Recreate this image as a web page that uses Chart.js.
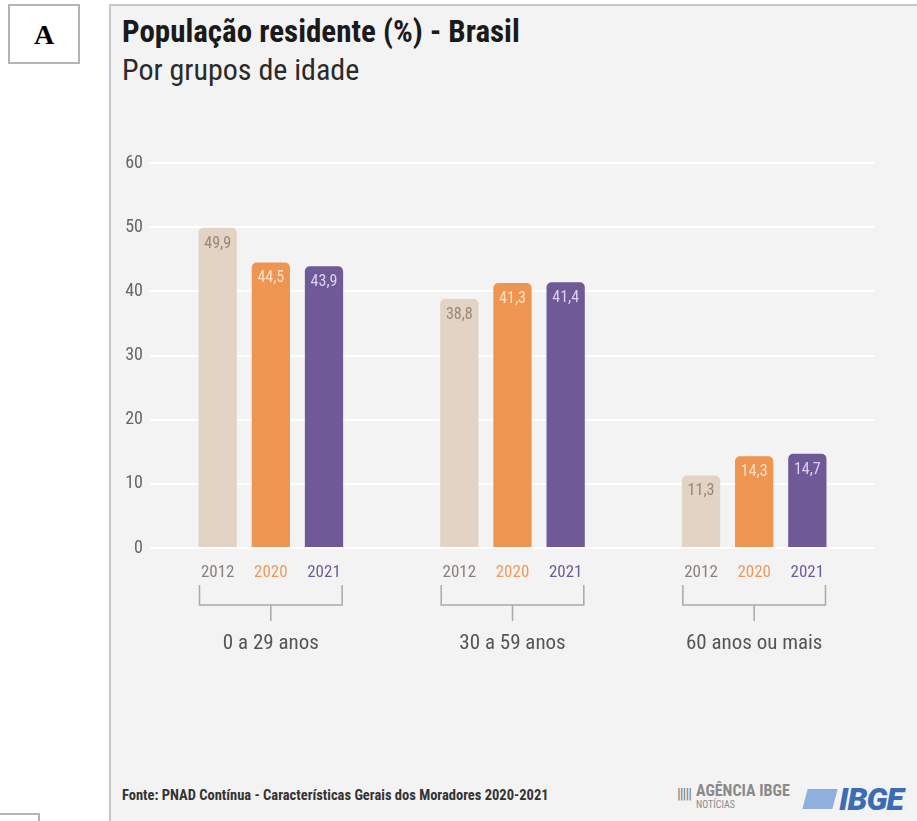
<!DOCTYPE html>
<html>
<head>
<meta charset="utf-8">
<script src="https://cdn.jsdelivr.net/npm/chart.js@4/dist/chart.umd.min.js"></script>
<style>
  html, body {
    margin: 0;
    padding: 0;
    background: #ffffff;
  }

  body {
    width: 917px;
    height: 821px;
    position: relative;
    overflow: hidden;
    font-family: "Roboto Condensed", "Liberation Sans Narrow", "DejaVu Sans Condensed", Roboto, sans-serif;
  }

  .tag {
    position: absolute;
    left: 8px;
    top: 4px;
    width: 72px;
    height: 60px;
    border: 2px solid #b4b4b4;
    box-sizing: border-box;
    font-family: "Liberation Serif", "DejaVu Serif", serif;
    font-weight: bold;
    font-size: 28px;
    line-height: 58px;
    text-align: center;
    color: #000;
  }

  .tag-bottom {
    position: absolute;
    left: -2px;
    top: 813px;
    width: 42px;
    height: 20px;
    border: 2px solid #b4b4b4;
    box-sizing: border-box;
  }

  .panel {
    position: absolute;
    left: 109px;
    top: 4px;
    width: 812px;
    height: 830px;
    background: #f3f3f3;
    border-left: 2px solid #c8c8c8;
    border-top: 2px solid #c8c8c8;
    box-sizing: border-box;
  }

  .title {
    position: absolute;
    left: 122px;
    top: 13px;
    font-size: 31px;
    font-weight: bold;
    color: #1a1a1a;
    white-space: nowrap;
  }

  .subtitle {
    position: absolute;
    left: 122px;
    top: 52px;
    font-size: 30px;
    color: #2a2a2a;
    white-space: nowrap;
  }

  #chartBox {
    position: absolute;
    left: 110px;
    top: 140px;
    width: 807px;
    height: 540px;
  }

  .source {
    position: absolute;
    left: 122px;
    top: 787px;
    font-size: 14.5px;
    font-weight: bold;
    color: #333;
    white-space: nowrap;
  }

  .agencia {
    position: absolute;
    left: 677px;
    top: 783px;
    color: #8a8a8a;
    white-space: nowrap;
  }

  .agencia .bars {
    display: inline-block;
    vertical-align: top;
    font-size: 15px;
    font-weight: bold;
    letter-spacing: -1px;
    margin-right: 5px;
    margin-top: 2px;
  }

  .agencia .name {
    display: inline-block;
    font-size: 16px;
    font-weight: bold;
    line-height: 16px;
  }

  .agencia .name small {
    display: block;
    font-size: 10px;
    font-weight: normal;
    line-height: 11px;
  }

  .ibge {
    position: absolute;
    left: 805px;
    top: 780px;
    white-space: nowrap;
    color: #3c6db4;
  }

  .ibge .icon {
    display: inline-block;
    width: 30px;
    height: 20px;
    background: #8fb0dc;
    transform: skewX(-15deg);
    vertical-align: middle;
    margin-right: 4px;
  }

  .ibge .word {
    font-family: Roboto, "Liberation Sans", sans-serif;
    font-size: 32px;
    font-weight: 900;
    font-style: italic;
    vertical-align: middle;
    letter-spacing: -1px;
  }
</style>
</head>
<body>

<div class="tag">A</div>
<div class="tag-bottom"></div>

<div class="panel"></div>

<div class="title">População residente (%) - Brasil</div>
<div class="subtitle">Por grupos de idade</div>

<div id="chartBox">
  <canvas id="popChart"></canvas>
</div>

<div class="source">Fonte: PNAD Contínua - Características Gerais dos Moradores 2020-2021</div>

<div class="agencia">
  <span class="bars">|||||</span><span class="name">AGÊNCIA IBGE<small>NOTÍCIAS</small></span>
</div>

<div class="ibge">
  <span class="icon"></span><span class="word">IBGE</span>
</div>

<script>
// =====================================================
// DATA
// =====================================================

const ageGroups = [
  "0 a 29 anos",
  "30 a 59 anos",
  "60 anos ou mais"
];

const years = [
  "2012",
  "2020",
  "2021"
];

const values2012 = [49.9, 38.8, 11.3];
const values2020 = [44.5, 41.3, 14.3];
const values2021 = [43.9, 41.4, 14.7];

const yTicks = [0, 10, 20, 30, 40, 50, 60];

// =====================================================
// STYLE
// =====================================================

const FONT =
  '"Roboto Condensed", "Liberation Sans Narrow", "DejaVu Sans Condensed", Roboto, sans-serif';

const barColors = ["#e2d3c5", "#ef9552", "#6f5a97"];
const valueColors = ["#9a8573", "#fde0c6", "#ddd2f0"];
const yearColors = ["#8b8079", "#ef9a5c", "#6f5a97"];

// =====================================================
// PLUGINS
// =====================================================

// value written inside the top of every bar
const valueLabels = {
  id: "valueLabels",
  afterDatasetsDraw(chart) {
    const ctx = chart.ctx;
    ctx.save();
    ctx.font = `16px ${FONT}`;
    ctx.textAlign = "center";
    ctx.textBaseline = "middle";
    chart.data.datasets.forEach((ds, i) => {
      chart.getDatasetMeta(i).data.forEach((bar, j) => {
        ctx.fillStyle = valueColors[i];
        ctx.fillText(
          ds.data[j].toFixed(1).replace(".", ","),
          bar.x,
          bar.y + 16
        );
      });
    });
    ctx.restore();
  }
};

// year under each bar and the bracket joining a group
const yearBrackets = {
  id: "yearBrackets",
  afterDraw(chart) {
    const ctx = chart.ctx;
    const base = chart.chartArea.bottom;
    const metas = chart.data.datasets.map(
      (ds, i) => chart.getDatasetMeta(i)
    );

    ctx.save();
    ctx.font = `17px ${FONT}`;
    ctx.textAlign = "center";
    ctx.textBaseline = "middle";

    metas.forEach((meta, i) => {
      meta.data.forEach(bar => {
        ctx.fillStyle = yearColors[i];
        ctx.fillText(years[i], bar.x, base + 25);
      });
    });

    ctx.strokeStyle = "#a9a9a9";
    ctx.lineWidth = 1.5;

    ageGroups.forEach((g, j) => {
      const first = metas[0].data[j];
      const last = metas[metas.length - 1].data[j];
      const left = first.x - first.width / 2 + 1;
      const right = last.x + last.width / 2 - 1;
      const mid = (left + right) / 2;

      ctx.beginPath();
      ctx.moveTo(left, base + 37);
      ctx.lineTo(left, base + 57);
      ctx.lineTo(right, base + 57);
      ctx.lineTo(right, base + 37);
      ctx.moveTo(mid, base + 57);
      ctx.lineTo(mid, base + 73);
      ctx.stroke();
    });

    ctx.restore();
  }
};

// =====================================================
// CHART
// =====================================================

function makeDataset(label, data, i) {
  return {
    label,
    data,
    backgroundColor: barColors[i],
    borderRadius: {
      topLeft: 5,
      topRight: 5,
      bottomLeft: 0,
      bottomRight: 0
    },
    borderSkipped: false,
    barPercentage: 0.72,
    categoryPercentage: 0.66
  };
}

new Chart(
  document.getElementById("popChart"),
  {
    type: "bar",
    data: {
      labels: ageGroups,
      datasets: [
        makeDataset(years[0], values2012, 0),
        makeDataset(years[1], values2020, 1),
        makeDataset(years[2], values2021, 2)
      ]
    },
    options: {
      responsive: true,
      maintainAspectRatio: false,
      animation: false,
      layout: {
        padding: { top: 23, right: 42, left: 0, bottom: 0 }
      },
      plugins: {
        legend: { display: false },
        tooltip: { enabled: false }
      },
      scales: {
        x: {
          grid: { display: false },
          border: { display: false },
          ticks: {
            color: "#555555",
            font: { family: FONT, size: 21 },
            padding: 75
          },
          afterFit(scale) {
            scale.height = 132;
          }
        },
        y: {
          min: 0,
          max: 60,
          afterBuildTicks(scale) {
            scale.ticks = yTicks.map(v => ({ value: v }));
          },
          grid: {
            color: "#ffffff",
            lineWidth: 2,
            drawTicks: false
          },
          border: { display: false },
          ticks: {
            color: "#666666",
            font: { family: FONT, size: 18 },
            padding: 7
          },
          afterFit(scale) {
            scale.width = 40;
          }
        }
      }
    },
    plugins: [valueLabels, yearBrackets]
  }
);
</script>
</body>
</html>
